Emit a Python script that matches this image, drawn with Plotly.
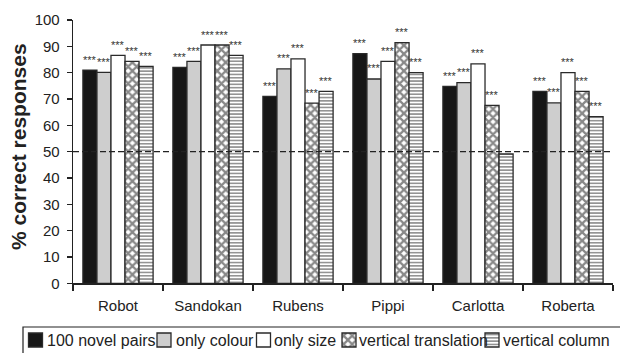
import plotly.graph_objects as go

categories = ["Robot", "Sandokan", "Rubens", "Pippi", "Carlotta", "Roberta"]
series_names = ["100 novel pairs", "only colour", "only size", "vertical translation", "vertical column"]
novel_pairs = [81.0, 82.0, 71.0, 87.2, 74.8, 72.9]
only_colour = [80.1, 84.3, 81.4, 77.6, 76.2, 68.5]
only_size = [86.6, 90.5, 85.2, 84.3, 83.3, 80.0]
vertical_translation = [84.3, 90.5, 68.4, 91.4, 67.6, 72.9]
vertical_column = [82.4, 86.6, 72.9, 80.0, 49.1, 63.3]
significance = [
    ["***"] * 6,
    ["***"] * 6,
    ["***"] * 6,
    ["***"] * 6,
    ["***", "***", "***", "***", "", "***"],
]
chance_level = 50
y_ticks = [0, 10, 20, 30, 40, 50, 60, 70, 80, 90, 100]

values = [novel_pairs, only_colour, only_size, vertical_translation, vertical_column]

# ---- styling / layout (not data) ----
W, H = 620, 353
FONT = "Liberation Sans"
INK = "#222222"
BARGAP = 0.22
styles = [
    dict(color="#171717", pattern=dict(shape="")),
    dict(color="#cecece", pattern=dict(shape="")),
    dict(color="#ffffff", pattern=dict(shape="")),
    dict(color="#ffffff", pattern=dict(shape="x", fgcolor="#111111", bgcolor="#ffffff", size=6, solidity=0.62)),
    dict(color="#ffffff", pattern=dict(shape="-", fgcolor="#111111", bgcolor="#ffffff", size=3.3, solidity=0.45)),
]
plot_left, plot_right, plot_top, plot_bottom = 73, 613, 20, 283.3
# legend geometry in pixels
leg_box_left, leg_box_top = 23, 327
leg_swatch_centers = [35.5, 164, 263.5, 349, 492]
leg_text_left = [45, 174, 272, 357, 501]
leg_swatch_size = 14
leg_row_center = 340

fig = go.Figure()
for name, vals, st in zip(series_names, values, styles):
    fig.add_trace(go.Bar(
        x=categories, y=vals, name=name, showlegend=False,
        marker=dict(color=st["color"], pattern=st["pattern"], line=dict(color="#2a2a2a", width=1.3)),
        xaxis="x", yaxis="y",
    ))

# significance stars above each bar
n = len(values)
slot = (1 - BARGAP) / n
for i, (vals, sig) in enumerate(zip(values, significance)):
    for j, (v, s) in enumerate(zip(vals, sig)):
        if not s:
            continue
        fig.add_annotation(
            x=j - (1 - BARGAP) / 2 + slot * (i + 0.5), y=v, xref="x", yref="y",
            text=s, showarrow=False, yanchor="middle", yshift=10.5,
            font=dict(size=11, color="#333333", family=FONT),
        )

# chance level
fig.add_shape(type="line", xref="x domain", yref="y", x0=0, x1=1, y0=chance_level, y1=chance_level,
              line=dict(color=INK, width=1.3, dash="6px,3px"))

# custom legend: swatches as bars on a hidden pixel-scaled axis
for name, st, cx, tx in zip(series_names, styles, leg_swatch_centers, leg_text_left):
    fig.add_trace(go.Bar(
        x=[cx], y=[leg_swatch_size], base=[leg_row_center - leg_swatch_size / 2],
        width=[leg_swatch_size], offsetgroup="legend", showlegend=False, hoverinfo="skip",
        marker=dict(color=st["color"], pattern=st["pattern"], line=dict(color="#2a2a2a", width=1.3)),
        xaxis="x2", yaxis="y2",
    ))
    fig.add_annotation(x=tx, y=leg_row_center, xref="x2", yref="y2", text=name, showarrow=False,
                       xanchor="left", yanchor="middle", font=dict(size=16, color=INK, family=FONT))

fig.add_shape(type="rect", xref="paper", yref="paper",
              x0=leg_box_left / W, x1=1.05, y0=-0.1, y1=(H - leg_box_top) / H,
              line=dict(color=INK, width=1.2), fillcolor="rgba(0,0,0,0)")

# y-axis title
fig.add_annotation(x=18 / W, y=(H - 147) / H, xref="paper", yref="paper", text="<b>% correct responses</b>",
                   textangle=-90, showarrow=False, xanchor="center", yanchor="middle",
                   font=dict(size=21, color=INK, family=FONT))

fig.update_layout(
    width=W, height=H, autosize=False,
    margin=dict(l=0, r=0, t=0, b=0, pad=0),
    paper_bgcolor="white", plot_bgcolor="white",
    barmode="group", bargap=BARGAP, bargroupgap=0,
    font=dict(family=FONT, size=15, color=INK),
    showlegend=False, hovermode=False,
    xaxis=dict(domain=[plot_left / W, plot_right / W], anchor="y", automargin=False,
               showline=True, linecolor=INK, linewidth=1.3, ticks="outside",
               tickson="boundaries", ticklen=6, tickcolor=INK, tickwidth=1.3, showgrid=False,
               tickfont=dict(size=15), ticklabelstandoff=8, fixedrange=True),
    yaxis=dict(domain=[(H - plot_bottom) / H, (H - plot_top) / H], anchor="x", automargin=False,
               range=[0, 100], tickvals=y_ticks, showline=True, linecolor=INK,
               linewidth=1.3, ticks="outside", ticklen=5, tickcolor=INK, tickwidth=1.3,
               showgrid=False, zeroline=False, tickfont=dict(size=15), ticklabelstandoff=4,
               fixedrange=True),
    xaxis2=dict(domain=[0, 1], range=[0, W], anchor="y2", visible=False, fixedrange=True),
    yaxis2=dict(domain=[0, 30 / H], range=[H, H - 30], anchor="x2", visible=False, fixedrange=True),
)

fig.write_html("out.html", config={"displayModeBar": False, "staticPlot": True},
               post_script="document.body.style.margin='0';document.body.style.overflow='hidden';")
